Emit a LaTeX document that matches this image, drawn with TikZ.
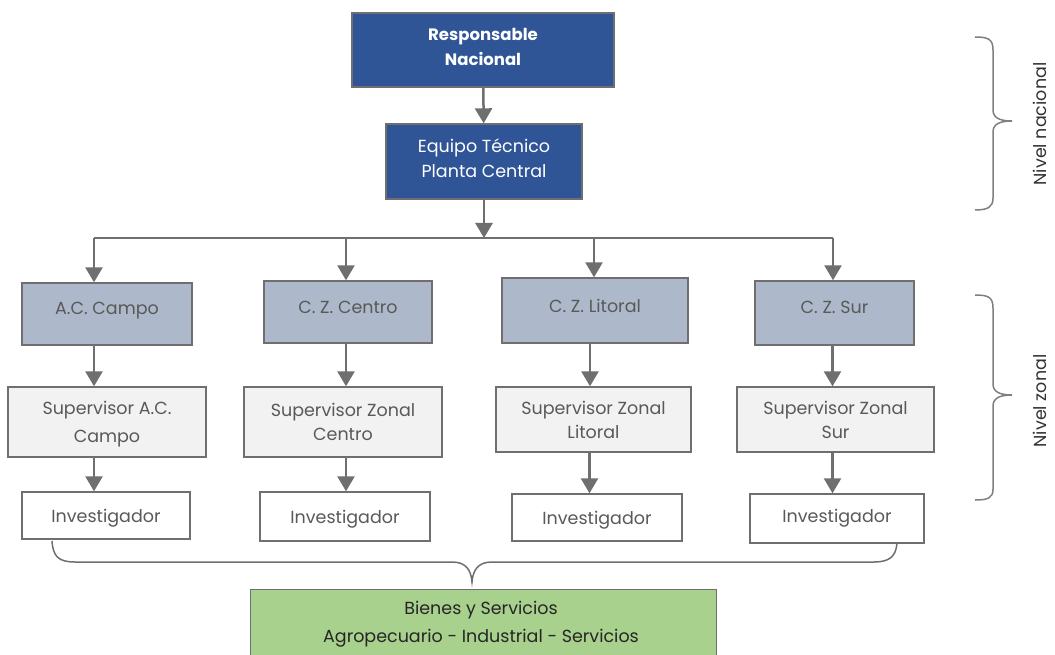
\documentclass[tikz,border=0pt]{standalone}
\usepackage{fontspec}
\setmainfont{Poppins}
\usetikzlibrary{arrows.meta}
\definecolor{dblue}{HTML}{2F5597}
\definecolor{gblue}{HTML}{ADB9CA}
\definecolor{lgray}{HTML}{F2F2F2}
\definecolor{lgreen}{HTML}{A9D18E}
\definecolor{edge}{HTML}{6F6F6F}
\definecolor{bracec}{HTML}{7F7F7F}
\definecolor{txt}{HTML}{595959}
\newcommand{\up}[2]{\raisebox{#1}[\height][\depth]{#2}}
\begin{document}
\begin{tikzpicture}[x=1pt,y=-1pt,
  every node/.style={font=\fontsize{17.5}{24}\selectfont, align=center, inner sep=0pt},
  box/.style={draw=edge, line width=1.4pt},
  topbox/.style={box, fill=dblue, text=white},
  zonebox/.style={box, fill=gblue, text=txt},
  supbox/.style={box, fill=lgray, text=txt},
  invbox/.style={box, fill=white, text=txt},
  greenbox/.style={box, fill=lgreen, text=black!85},
  arr/.style={draw=edge, line width=2.5pt, -{Triangle[width=17pt,length=15pt]}},
  brace/.style={draw=bracec, line width=1.5pt},
  side/.style={font=\fontsize{17.5}{20}\selectfont, text=black!80, rotate=90}]
\useasboundingbox (0,0) rectangle (1055,655);
% top
\node[topbox, minimum width=262pt, minimum height=74pt,
  label={[white, yshift=3pt, font=\fontsize{16.5}{25}\selectfont\bfseries]center:Responsable\\Nacional}] (rn) at (483,50) {};
\node[topbox, minimum width=196pt, minimum height=75pt,
  label={[white, yshift=3pt, font=\fontsize{17.5}{25}\selectfont]center:Equipo Técnico\\Planta Central}] (et) at (484,161.5) {};
\draw[arr] (rn) -- (et);
\coordinate (bus) at (484,238);
\coordinate (busL) at (94,238);
\coordinate (busR) at (833,238);
\draw[arr] (et) -- (bus);
\draw[draw=edge, line width=1.4pt] (busL) -- (busR);
% row 1
\node[zonebox, minimum width=170pt, minimum height=62pt] (z1) at (107,314) {\up{3.5pt}{A.C. Campo}};
\node[zonebox, minimum width=168pt, minimum height=62pt] (z2) at (348,312) {\up{4.5pt}{C. Z. Centro}};
\node[zonebox, minimum width=186pt, minimum height=65pt] (z3) at (595,310.5) {\up{5pt}{C. Z. Litoral}};
\node[zonebox, minimum width=159pt, minimum height=64pt] (z4) at (834.5,313) {\up{5.5pt}{C. Z. Sur}};
\coordinate (b2) at (346,238);
\coordinate (b3) at (594,238);
\draw[arr] (busL) -- (busL |- z1.north);
\draw[arr] (b2) -- (b2 |- z2.north);
\draw[arr] (b3) -- (b3 |- z3.north);
\draw[arr] (busR) -- (busR |- z4.north);
% row 2
\node[supbox, minimum width=198pt, minimum height=70pt] (s1) at (107,422) {\up{-2pt}{Supervisor A.C.}\\[4pt]\up{-2pt}{Campo}};
\node[supbox, minimum width=198pt, minimum height=70pt] (s2) at (343,422) {Supervisor Zonal\\Centro};
\node[supbox, minimum width=195pt, minimum height=65pt] (s3) at (593.5,419.5) {Supervisor Zonal\\Litoral};
\node[supbox, minimum width=197pt, minimum height=65pt] (s4) at (835.5,419.5) {Supervisor Zonal\\Sur};
\draw[arr] (z1.south) ++(-13,0) coordinate (t1) -- (t1 |- s1.north);
\draw[arr] (z2.south) ++(-2,0) coordinate (t2) -- (t2 |- s2.north);
\draw[arr] (z3.south) ++(-5,0) coordinate (t3) -- (t3 |- s3.north);
\draw[arr] (z4.south) ++(-2,0) coordinate (t4) -- (t4 |- s4.north);
% row 3
\node[invbox, minimum width=168pt, minimum height=47pt] (i1) at (106,515.5) {\up{-2.5pt}{Investigador}};
\node[invbox, minimum width=170pt, minimum height=49pt] (i2) at (345,516.5) {\up{-2.5pt}{Investigador}};
\node[invbox, minimum width=170pt, minimum height=47pt] (i3) at (597,517.5) {\up{-2.5pt}{Investigador}};
\node[invbox, minimum width=174pt, minimum height=49pt] (i4) at (837,518.5) {\up{0pt}{Investigador}};
\draw[arr] (s1.south) ++(-13,0) coordinate (u1) -- (u1 |- i1.north);
\draw[arr] (s2.south) ++(3,0) coordinate (u2) -- (u2 |- i2.north);
\draw[arr] (s3.south) ++(-4,0) coordinate (u3) -- (u3 |- i3.north);
\draw[arr] (s4.south) ++(-3,0) coordinate (u4) -- (u4 |- i4.north);
% bottom
\node[greenbox, minimum width=466pt, minimum height=76pt, anchor=north west] (g) at (250,589) {};
\node[text=black!85] (gt) at (481,624) {Bienes y Servicios\\[4pt]Agropecuario - Industrial - Servicios};
\draw[brace, draw=edge] (52,541) .. controls (53,556) and (58,562) .. (75,562) -- (452,562)
  .. controls (466,562) and (471,570) .. (472,582)
  .. controls (473,570) and (478,562) .. (492,562) -- (874,562)
  .. controls (890,562) and (896,556) .. (897,543);
% right braces
\draw[brace] (975,37) .. controls (988,37) and (993,39) .. (993,50) -- (993,110)
  .. controls (993,118) and (1000,121) .. (1012,121)
  .. controls (1000,121) and (993,124) .. (993,132) -- (993,198)
  .. controls (993,207) and (988,210) .. (975,210);
\node[side] (nn) at (1040,124) {Nivel nacional};
\draw[brace] (975,295) .. controls (988,295) and (993,297) .. (993,308) -- (993,384)
  .. controls (993,392) and (1000,395) .. (1012,395)
  .. controls (1000,395) and (993,398) .. (993,406) -- (993,489)
  .. controls (993,498) and (988,500) .. (975,500);
\node[side] (nz) at (1040,401) {Nivel zonal};
\end{tikzpicture}
\end{document}
